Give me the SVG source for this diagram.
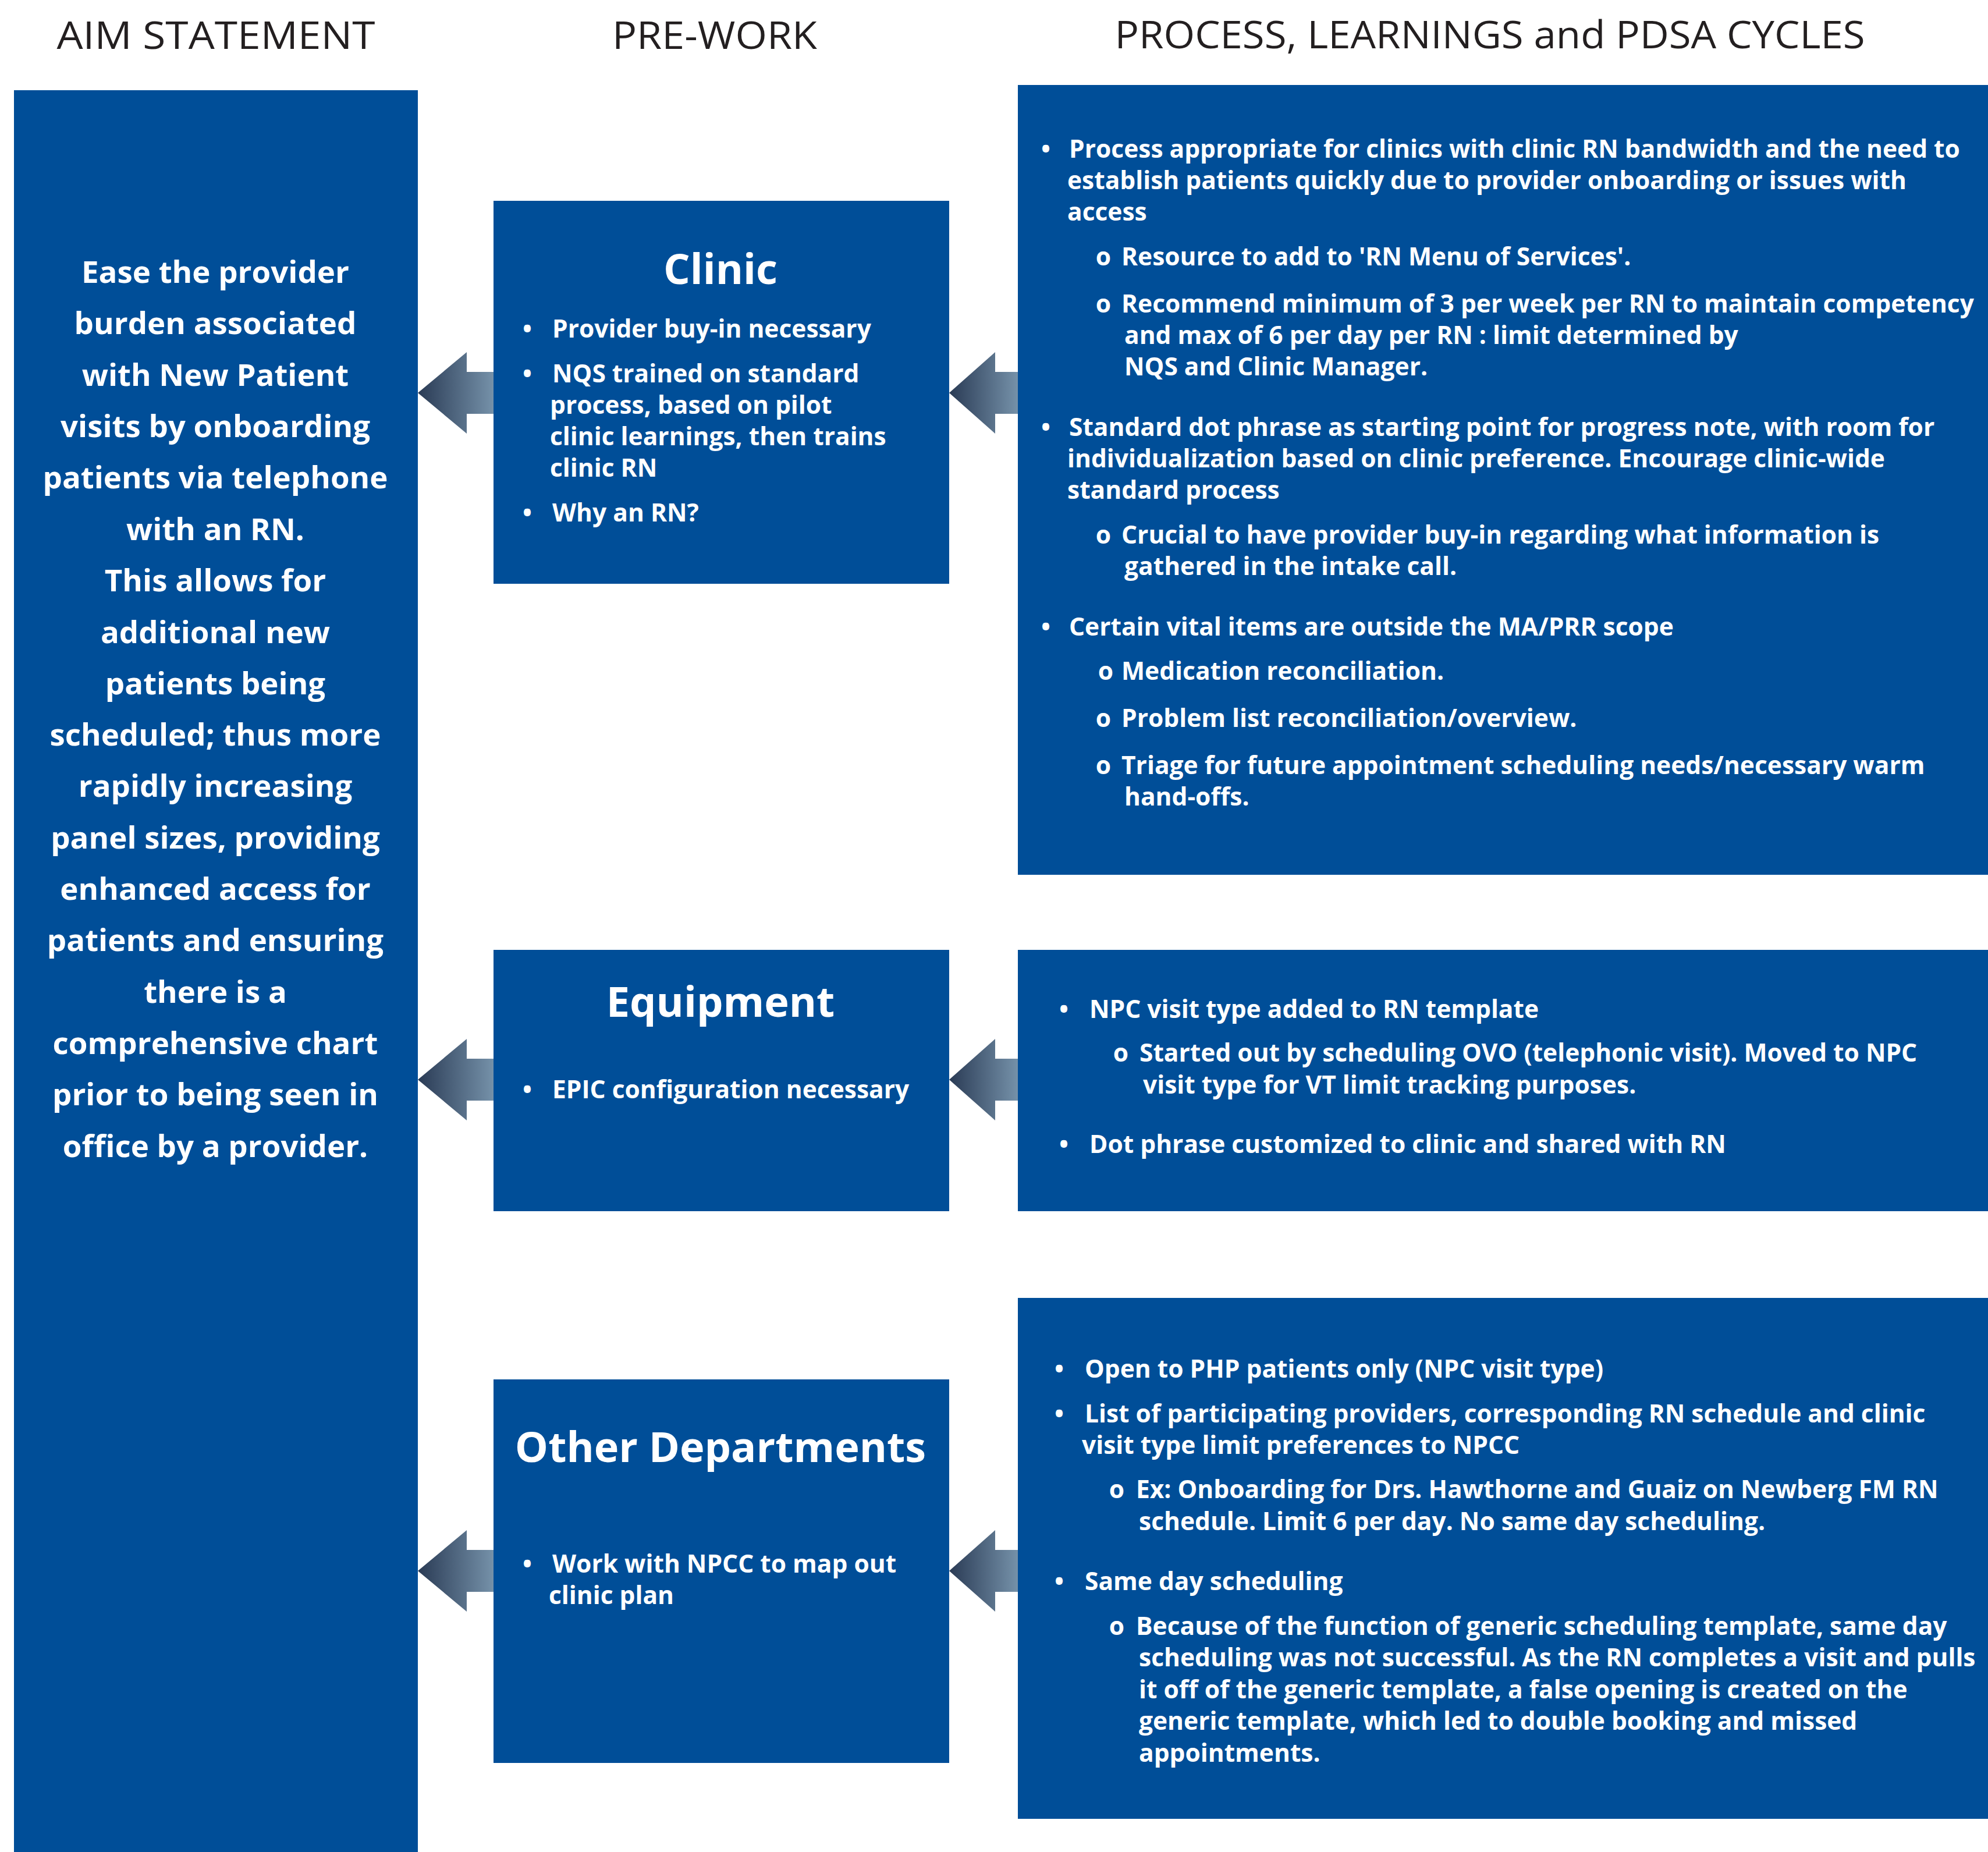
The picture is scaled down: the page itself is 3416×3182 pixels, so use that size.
<svg xmlns="http://www.w3.org/2000/svg" width="3416" height="3182" viewBox="0 0 3416 3182">
<defs>
<linearGradient id="arrowGrad" x1="0" y1="0" x2="1" y2="0">
<stop offset="0" stop-color="#2a3b55"/>
<stop offset="1" stop-color="#7591a9"/>
</linearGradient>
<style>
.box{fill:#004E98;}
.hdr{font-family:"Open Sans","Liberation Sans",sans-serif;font-size:66px;fill:#231f20;text-anchor:middle;}
.aim{font-family:"Open Sans","Liberation Sans",sans-serif;font-weight:700;font-size:52.8px;fill:#ffffff;text-anchor:middle;}
.title{font-family:"Open Sans","Liberation Sans",sans-serif;font-weight:700;font-size:72px;fill:#ffffff;text-anchor:middle;}
.t{font-family:"Open Sans","Liberation Sans",sans-serif;font-weight:700;font-size:42.5px;fill:#ffffff;}
.bul{text-anchor:middle;}
.arrow{fill:url(#arrowGrad);}
</style>
</defs>
<rect width="3416" height="3182" fill="#ffffff"/>

<g id="headers">
<text class="hdr" x="371" y="84" textLength="547" lengthAdjust="spacingAndGlyphs">AIM STATEMENT</text>
<text class="hdr" x="1228" y="84" textLength="352" lengthAdjust="spacingAndGlyphs">PRE-WORK</text>
<text class="hdr" x="2560" y="83" textLength="1289" lengthAdjust="spacingAndGlyphs">PROCESS, LEARNINGS and PDSA CYCLES</text>
</g>

<g id="aim">
<rect class="box" x="24" y="155" width="694" height="3027"/>
<text class="aim" x="370" y="486">Ease the provider</text>
<text class="aim" x="370" y="574">burden associated</text>
<text class="aim" x="370" y="663">with New Patient</text>
<text class="aim" x="370" y="751">visits by onboarding</text>
<text class="aim" x="370" y="839">patients via telephone</text>
<text class="aim" x="370" y="928">with an RN.</text>
<text class="aim" x="370" y="1016">This allows for</text>
<text class="aim" x="370" y="1105">additional new</text>
<text class="aim" x="370" y="1193">patients being</text>
<text class="aim" x="370" y="1281">scheduled; thus more</text>
<text class="aim" x="370" y="1369">rapidly increasing</text>
<text class="aim" x="370" y="1458">panel sizes, providing</text>
<text class="aim" x="370" y="1546">enhanced access for</text>
<text class="aim" x="370" y="1634">patients and ensuring</text>
<text class="aim" x="370" y="1723">there is a</text>
<text class="aim" x="370" y="1811">comprehensive chart</text>
<text class="aim" x="370" y="1899">prior to being seen in</text>
<text class="aim" x="370" y="1988">office by a provider.</text>
</g>

<g id="clinic">
<rect class="box" x="848" y="345" width="783" height="658"/>
<text class="title" x="1238" y="488">Clinic</text>
<text class="t bul" x="906" y="580">•</text>
<text class="t" x="949" y="580">Provider buy-in necessary</text>
<text class="t bul" x="906" y="657">•</text>
<text class="t" x="949" y="657">NQS trained on standard</text>
<text class="t" x="945" y="711">process, based on pilot</text>
<text class="t" x="945" y="765">clinic learnings, then trains</text>
<text class="t" x="945" y="819">clinic RN</text>
<text class="t bul" x="906" y="896">•</text>
<text class="t" x="949" y="896">Why an RN?</text>
</g>

<g id="equipment">
<rect class="box" x="848" y="1632" width="783" height="449"/>
<text class="title" x="1238" y="1747">Equipment</text>
<text class="t bul" x="906" y="1887">•</text>
<text class="t" x="949" y="1887">EPIC configuration necessary</text>
</g>

<g id="other-departments">
<rect class="box" x="848" y="2370" width="783" height="659"/>
<text class="title" x="1238" y="2512">Other Departments</text>
<text class="t bul" x="906" y="2702">•</text>
<text class="t" x="949" y="2702">Work with NPCC to map out</text>
<text class="t" x="943" y="2756">clinic plan</text>
</g>

<g id="process-clinic">
<rect class="box" x="1749" y="146" width="1667" height="1357"/>
<text class="t bul" x="1797" y="271">•</text>
<text class="t" x="1837" y="271">Process appropriate for clinics with clinic RN bandwidth and the need to</text>
<text class="t" x="1834" y="325">establish patients quickly due to provider onboarding or issues with</text>
<text class="t" x="1834" y="379">access</text>
<text class="t bul" x="1896" y="456">o</text>
<text class="t" x="1927" y="456">Resource to add to 'RN Menu of Services'.</text>
<text class="t bul" x="1896" y="537">o</text>
<text class="t" x="1927" y="537">Recommend minimum of 3 per week per RN to maintain competency</text>
<text class="t" x="1932" y="591">and max of 6 per day per RN : limit determined by</text>
<text class="t" x="1932" y="645">NQS and Clinic Manager.</text>
<text class="t bul" x="1797" y="749">•</text>
<text class="t" x="1837" y="749">Standard dot phrase as starting point for progress note, with room for</text>
<text class="t" x="1834" y="803">individualization based on clinic preference. Encourage clinic-wide</text>
<text class="t" x="1834" y="857">standard process</text>
<text class="t bul" x="1896" y="934">o</text>
<text class="t" x="1927" y="934">Crucial to have provider buy-in regarding what information is</text>
<text class="t" x="1932" y="988">gathered in the intake call.</text>
<text class="t bul" x="1797" y="1092">•</text>
<text class="t" x="1837" y="1092">Certain vital items are outside the MA/PRR scope</text>
<text class="t bul" x="1900" y="1168">o</text>
<text class="t" x="1927" y="1168">Medication reconciliation.</text>
<text class="t bul" x="1896" y="1249">o</text>
<text class="t" x="1927" y="1249">Problem list reconciliation/overview.</text>
<text class="t bul" x="1896" y="1330">o</text>
<text class="t" x="1927" y="1330">Triage for future appointment scheduling needs/necessary warm</text>
<text class="t" x="1932" y="1384">hand-offs.</text>
</g>

<g id="process-equipment">
<rect class="box" x="1749" y="1632" width="1667" height="449"/>
<text class="t bul" x="1828" y="1749">•</text>
<text class="t" x="1872" y="1749">NPC visit type added to RN template</text>
<text class="t bul" x="1926" y="1824">o</text>
<text class="t" x="1958" y="1824">Started out by scheduling OVO (telephonic visit). Moved to NPC</text>
<text class="t" x="1964" y="1879">visit type for VT limit tracking purposes.</text>
<text class="t bul" x="1828" y="1981">•</text>
<text class="t" x="1872" y="1981">Dot phrase customized to clinic and shared with RN</text>
</g>

<g id="process-other">
<rect class="box" x="1749" y="2230" width="1667" height="895"/>
<text class="t bul" x="1820" y="2367">•</text>
<text class="t" x="1864" y="2367">Open to PHP patients only (NPC visit type)</text>
<text class="t bul" x="1820" y="2444">•</text>
<text class="t" x="1864" y="2444">List of participating providers, corresponding RN schedule and clinic</text>
<text class="t" x="1859" y="2498">visit type limit preferences to NPCC</text>
<text class="t bul" x="1919" y="2574">o</text>
<text class="t" x="1952" y="2574">Ex: Onboarding for Drs. Hawthorne and Guaiz on Newberg FM RN</text>
<text class="t" x="1957" y="2629">schedule. Limit 6 per day. No same day scheduling.</text>
<text class="t bul" x="1820" y="2732">•</text>
<text class="t" x="1864" y="2732">Same day scheduling</text>
<text class="t bul" x="1919" y="2809">o</text>
<text class="t" x="1952" y="2809">Because of the function of generic scheduling template, same day</text>
<text class="t" x="1957" y="2863">scheduling was not successful. As the RN completes a visit and pulls</text>
<text class="t" x="1957" y="2918">it off of the generic template, a false opening is created on the</text>
<text class="t" x="1957" y="2972">generic template, which led to double booking and missed</text>
<text class="t" x="1957" y="3027">appointments.</text>
</g>

<g id="connectors">
<path class="arrow" d="M718 675 L802 605 L802 639 L848 639 L848 711 L802 711 L802 745 Z"/>
<path class="arrow" d="M1631 675 L1710 605 L1710 639 L1749 639 L1749 711 L1710 711 L1710 745 Z"/>
<path class="arrow" d="M718 1855 L802 1785 L802 1819 L848 1819 L848 1891 L802 1891 L802 1925 Z"/>
<path class="arrow" d="M1631 1855 L1710 1785 L1710 1819 L1749 1819 L1749 1891 L1710 1891 L1710 1925 Z"/>
<path class="arrow" d="M718 2699 L802 2629 L802 2663 L848 2663 L848 2735 L802 2735 L802 2769 Z"/>
<path class="arrow" d="M1631 2699 L1710 2629 L1710 2663 L1749 2663 L1749 2735 L1710 2735 L1710 2769 Z"/>
</g>
</svg>
